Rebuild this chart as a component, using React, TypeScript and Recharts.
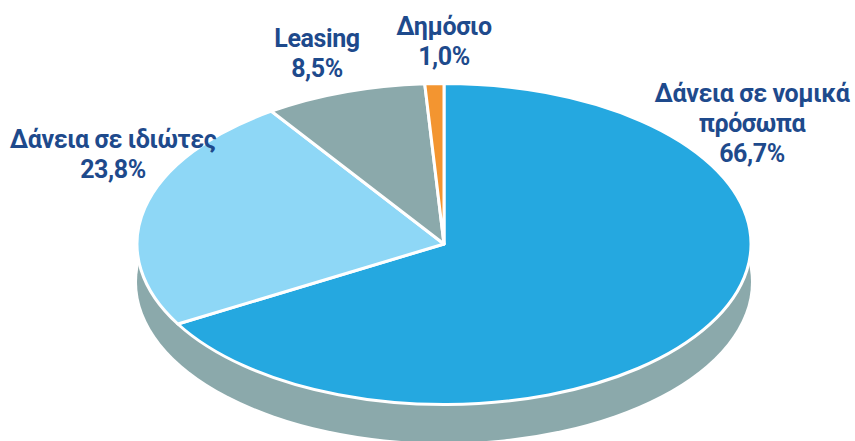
import React from 'react';
import { PieChart, Pie, Cell } from 'recharts';

const categories = ['Δάνεια σε νομικά πρόσωπα', 'Δάνεια σε ιδιώτες', 'Leasing', 'Δημόσιο'];
const values = [66.7, 23.8, 8.5, 1.0];
const valueLabels = ['66,7%', '23,8%', '8,5%', '1,0%'];
const sliceColors = ['#25A8E0', '#8ED7F6', '#8BA9AB', '#F39530'];
const sideColor = '#8BA9AB';
const labelColor = '#1E4A8C';

// label layout (positions only)
const labelPos = [
  { x: 752, y: 102 },
  { x: 113, y: 148 },
  { x: 317, y: 47 },
  { x: 444, y: 35 },
];
const lineGap = 30;

const W = 855;
const H = 441;
const CX = 444;
const CY = 244;
const R = 307;
const SQUASH = 0.523;
const DEPTH = 38;

const data = categories.map((name, i) => ({ name, value: values[i], pct: valueLabels[i] }));
const sideData = [{ name: 'side', value: 100 }];

function pt(cx: number, cy: number, r: number, deg: number) {
  const a = (-deg * Math.PI) / 180;
  return [cx + r * Math.cos(a), cy + r * SQUASH * Math.sin(a)];
}

function EllipseSector(props: any) {
  const { cx, cy, outerRadius, startAngle, endAngle, fill, stroke, strokeWidth } = props;
  const delta = endAngle - startAngle;
  if (Math.abs(delta) >= 359.99) {
    return (
      <ellipse cx={cx} cy={cy} rx={outerRadius} ry={outerRadius * SQUASH} fill={fill} stroke={stroke} strokeWidth={strokeWidth} />
    );
  }
  const [x1, y1] = pt(cx, cy, outerRadius, startAngle);
  const [x2, y2] = pt(cx, cy, outerRadius, endAngle);
  const large = Math.abs(delta) > 180 ? 1 : 0;
  const sweep = delta < 0 ? 1 : 0;
  const d = `M${cx},${cy} L${x1},${y1} A${outerRadius},${outerRadius * SQUASH} 0 ${large} ${sweep} ${x2},${y2} Z`;
  return <path d={d} fill={fill} stroke={stroke} strokeWidth={strokeWidth} strokeLinejoin="round" />;
}

function wrap(text: string, max: number) {
  const words = text.split(' ');
  const lines: string[] = [];
  let cur = '';
  for (const w of words) {
    const next = cur ? cur + ' ' + w : w;
    if (next.length > max && cur) {
      lines.push(cur);
      cur = w;
    } else cur = next;
  }
  if (cur) lines.push(cur);
  return lines;
}

function renderLabel(props: any) {
  const i = props.index;
  const p = labelPos[i];
  const lines = [...wrap(categories[i], 17), valueLabels[i]];
  return (
    <text
      key={`lbl-${i}`}
      x={p.x}
      y={p.y}
      textAnchor="middle"
      fill={labelColor}
      fontFamily="Roboto, 'DejaVu Sans Condensed', sans-serif"
      fontWeight={700}
      fontSize={25}
      letterSpacing={-0.4}
    >
      {lines.map((l, k) => (
        <tspan key={k} x={p.x} y={p.y + k * lineGap}>
          {l}
        </tspan>
      ))}
    </text>
  );
}

export default function App() {
  return (
    <div style={{ position: 'absolute', left: 0, top: 0, width: W, height: H, background: '#fff' }}>
      <PieChart width={W} height={H} margin={{ top: 0, right: 0, bottom: 0, left: 0 }}>
        <Pie
          data={sideData}
          dataKey="value"
          cx={CX}
          cy={CY + DEPTH}
          outerRadius={R}
          startAngle={90}
          endAngle={-270}
          isAnimationActive={false}
          stroke="none"
          label={false}
          shape={EllipseSector}
          inactiveShape={EllipseSector}
          activeShape={EllipseSector}
        >
          <Cell fill={sideColor} />
        </Pie>
        <Pie
          data={data}
          dataKey="value"
          nameKey="name"
          cx={CX}
          cy={CY}
          outerRadius={R}
          startAngle={90}
          endAngle={-270}
          isAnimationActive={false}
          stroke="#ffffff"
          strokeWidth={3}
          label={renderLabel}
          labelLine={false}
          shape={EllipseSector}
          inactiveShape={EllipseSector}
          activeShape={EllipseSector}
        >
          {data.map((d, i) => (
            <Cell key={d.name} fill={sliceColors[i]} />
          ))}
        </Pie>
      </PieChart>
    </div>
  );
}
